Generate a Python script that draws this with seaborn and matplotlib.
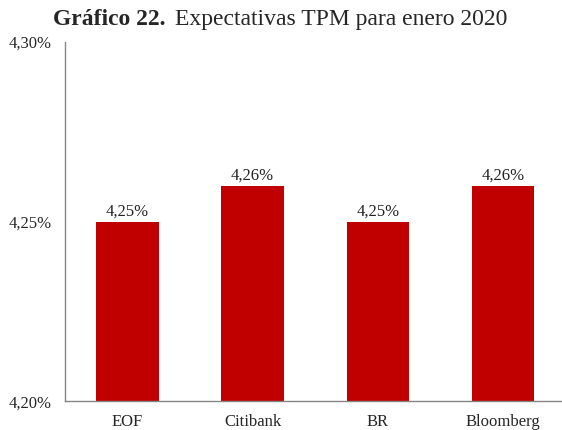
import matplotlib
matplotlib.use("Agg")
import matplotlib.pyplot as plt
import seaborn as sns
import pandas as pd

# Datos del gráfico
fuentes = ["EOF", "Citibank", "BR", "Bloomberg"]
tpm_esperada = [4.25, 4.26, 4.25, 4.26]
ticks_y = [4.20, 4.25, 4.30]

df = pd.DataFrame({"Fuente": fuentes, "TPM": tpm_esperada})

sns.set_theme(style="white")
plt.rcParams["font.family"] = ["Liberation Serif", "DejaVu Serif"]

fig = plt.figure(figsize=(5.62, 4.30), dpi=100)
ax = fig.add_axes([0.1155, 0.067, 0.882, 0.835])

sns.barplot(data=df, x="Fuente", y="TPM", color="#C00000", width=0.5,
            saturation=1, ax=ax, edgecolor="none")

ax.set_ylim(4.20, 4.30)
ax.set_xlim(-0.5, 3.46)
ax.set_yticks(ticks_y)
ax.set_yticklabels([f"{v:.2f}%".replace(".", ",") for v in ticks_y], fontsize=12)
ax.tick_params(axis="y", length=0, pad=9.5)
ax.tick_params(axis="x", length=0, pad=9, labelsize=12)
ax.set_xlabel("")
ax.set_ylabel("")

# Etiquetas de valor sobre las barras
for i, v in enumerate(tpm_esperada):
    ax.text(i, v + 0.0007, f"{v:.2f}%".replace(".", ","), ha="center", va="bottom",
            fontsize=12, color="#222222")

for s in ["top", "right"]:
    ax.spines[s].set_visible(False)
for s in ["left", "bottom"]:
    ax.spines[s].set_color("#868686")
    ax.spines[s].set_linewidth(1)

# Título con parte en negrita
fig.text(0.295, 0.955, "Gráfico 22.", fontsize=17, fontweight="bold", ha="right", va="center")
fig.text(0.312, 0.955, "Expectativas TPM para enero 2020", fontsize=17, ha="left", va="center")

fig.savefig("out.png", dpi=100)
